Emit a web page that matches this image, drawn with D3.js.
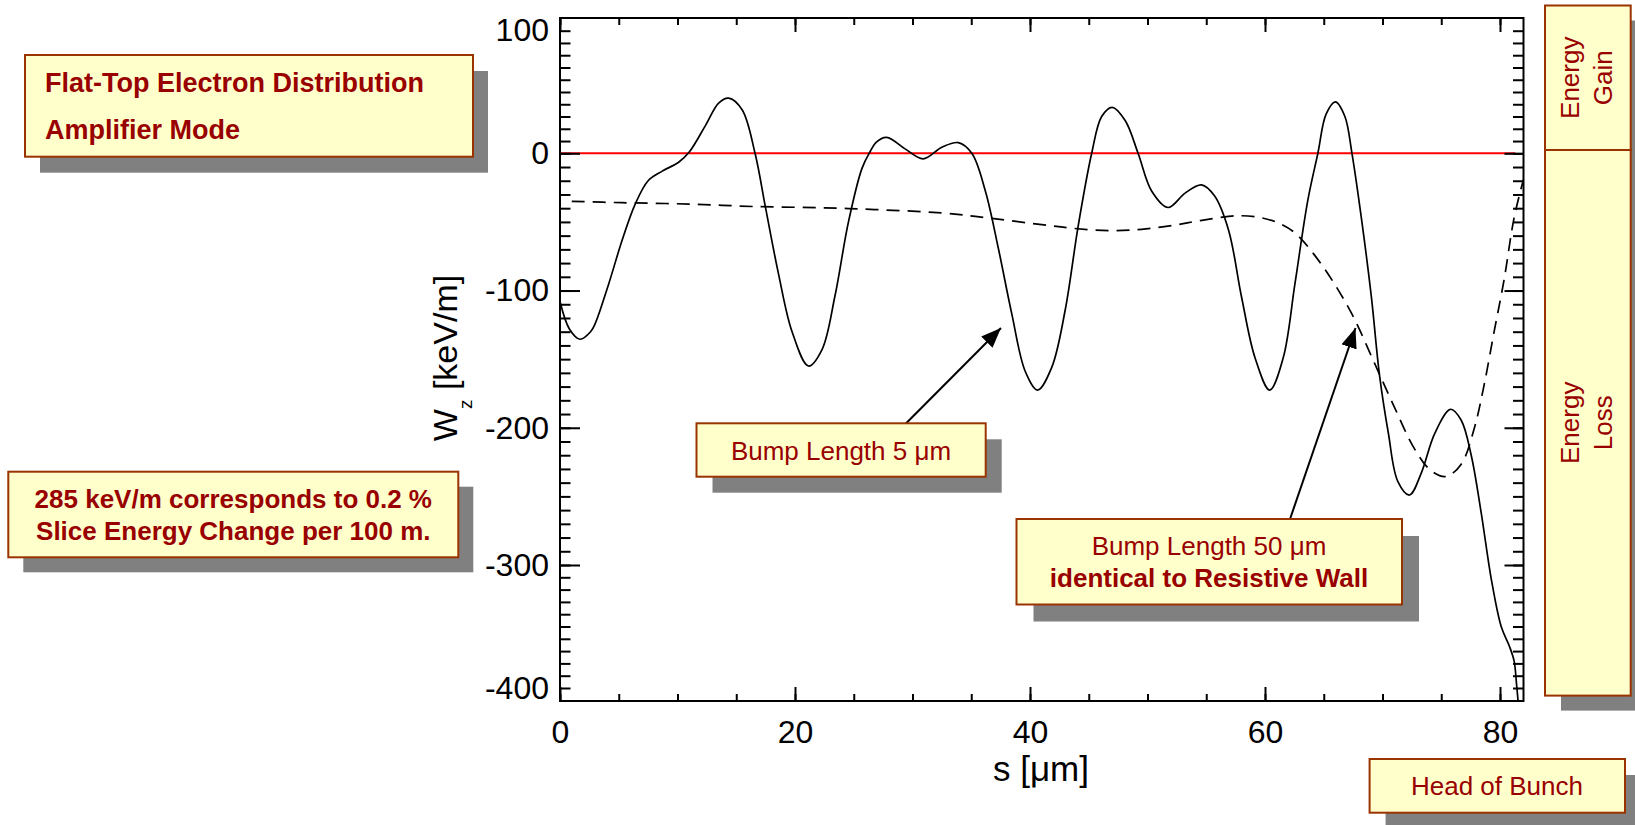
<!DOCTYPE html>
<html>
<head>
<meta charset="utf-8">
<script src="https://cdn.jsdelivr.net/npm/d3@7"></script>
<style>
  html, body { margin: 0; padding: 0; background: #ffffff; }
  svg { display: block; }
</style>
</head>
<body>
<svg id="chart" width="1635" height="825"></svg>
<script>
// Longitudinal wake W_z along the bunch coordinate s, for two bump lengths.

// Bump length 5 µm (solid)
const sSolid = [0.0, 0.8, 1.7, 2.6, 3.0, 4.15, 5.3, 6.4, 7.5, 8.7, 10.1, 11.0, 12.4, 13.5, 14.35,
  15.5, 16.6, 17.5, 18.6, 19.75, 21.15, 22.3, 23.4, 24.55, 25.7, 26.4, 26.9, 27.8, 29.4, 30.9,
  32.5, 33.9, 35.05, 36.2, 37.3, 38.45, 39.6, 40.65, 41.85, 43.0, 44.1, 45.25, 46.1, 47.0, 48.1,
  49.2, 50.35, 51.75, 53.2, 54.6, 55.7, 56.9, 58.0, 59.15, 60.4, 61.55, 62.55, 63.65, 64.5, 65.2,
  66.0, 66.8, 67.4, 68.2, 69.05, 69.75, 70.5, 71.3, 72.3, 73.3, 74.45, 75.8, 76.7, 77.55, 78.4,
  79.25, 80.1, 80.8, 81.2, 81.4, 81.55];
const wSolid = [-108, -128, -135.5, -130, -124, -95, -63, -37, -20, -13, -6.5, 1, 23, 41, 45,
  35.5, 0, -40, -88, -130, -155, -143, -104, -50, -11, 1.5, 9, 13, 3.4, -4,
  5, 8.7, 0, -27.5, -69, -117, -159, -172.5, -156, -114, -53, 0, 30, 37.5, 26.7,
  0, -27.5, -39.5, -29, -23, -31, -56, -104.5, -149, -172.5, -149, -95, -34, 0, 32,
  42, 30, 0, -47, -104.5, -162, -204, -239, -249, -233, -204, -186.5, -194.5, -220, -262,
  -311, -350, -366, -378, -396, -412];

// Bump length 50 µm, identical to resistive wall (dashed)
const sDashed = [1.0, 5.3, 11.0, 16.6, 22.3, 26.8, 32.5, 36.75, 41.0, 43.8, 46.7, 49.5, 52.3,
  54.5, 56.9, 58.0, 59.7, 61.2, 62.55, 64.2, 65.9, 67.6, 69.3, 71.0, 72.7, 74.1, 75.4, 76.7,
  77.8, 78.65, 79.5, 80.35, 81.2, 82.0];
const wDashed = [-35, -36, -37, -38.8, -39.7, -41, -43.5, -47.4, -52, -54.8, -56.4, -55.4, -52.3,
  -49, -46, -45.5, -47, -51, -58, -74, -95, -120.5, -152.6, -184.7, -215, -231, -235.5, -226.5,
  -200.7, -168.7, -130, -92, -47, -19];

// Zero reference line
const sZero = [0, 81.3];
const wZero = [0, 0];

// Axis ticks
const xTickLabels = [0, 20, 40, 60, 80];
const xMinorTicks = d3.range(0, 81, 5);
const yTickLabels = [100, 0, -100, -200, -300, -400];
const yMajorTicks = [0, -100, -200, -300];
const yMinorTicks = d3.range(-400, 101, 10);

// Annotation arrow targets (s, W_z)
const arrow5Target = [37.53, -127.3];
const arrow50Target = [67.7, -127.3];

(function draw() {
  const FONT = "'Liberation Sans', Arial, Helvetica, sans-serif";
  const TEXT_RED = "#990000";
  const BOX_FILL = "#ffffcc";
  const BOX_EDGE = "#993300";
  const SHADOW = "#808080";

  const pLeft = 560, pRight = 1523.5, pTop = 18, pBottom = 701;

  const svg = d3.select("#chart");

  const x = d3.scaleLinear().domain([0, 82]).range([pLeft, pRight]);
  const y = d3.scaleLinear()
    .domain([-410.5, -400, -300, 0, 100, 110.4])
    .range([pBottom, 688, 565, 153.3, 30.7, pTop]);

  const defs = svg.append("defs");
  defs.append("clipPath").attr("id", "plotClip")
    .append("rect").attr("x", pLeft).attr("y", pTop)
    .attr("width", pRight - pLeft).attr("height", pBottom - pTop);
  defs.append("marker")
    .attr("id", "arrowHead")
    .attr("viewBox", "0 0 20 16")
    .attr("refX", 20).attr("refY", 8)
    .attr("markerWidth", 20).attr("markerHeight", 16)
    .attr("markerUnits", "userSpaceOnUse")
    .attr("orient", "auto")
    .append("path").attr("d", "M0,0 L20,8 L0,16 Z").attr("fill", "#000");

  const line = d3.line()
    .x(d => x(d[0]))
    .y(d => y(d[1]))
    .curve(d3.curveCatmullRom.alpha(0.5));

  const plot = svg.append("g").attr("clip-path", "url(#plotClip)");

  plot.append("path")
    .datum(d3.zip(sZero, wZero))
    .attr("d", d3.line().x(d => x(d[0])).y(d => y(d[1])))
    .attr("fill", "none").attr("stroke", "#ff0000").attr("stroke-width", 2);

  plot.append("path")
    .datum(d3.zip(sDashed, wDashed))
    .attr("d", line)
    .attr("fill", "none").attr("stroke", "#000").attr("stroke-width", 1.7)
    .attr("stroke-dasharray", "13,8");

  plot.append("path")
    .datum(d3.zip(sSolid, wSolid))
    .attr("d", line)
    .attr("fill", "none").attr("stroke", "#000").attr("stroke-width", 1.7);

  // axes
  function styleAxis(g) {
    g.select(".domain").remove();
    g.selectAll("line").attr("stroke", "#000").attr("stroke-width", 2);
    g.attr("font-family", FONT).attr("font-size", 32);
    g.selectAll("text").attr("fill", "#000");
  }
  const noLabel = () => "";
  const plain = d => String(d);

  svg.append("g").attr("transform", `translate(${pLeft},0)`)
    .call(d3.axisLeft(y).tickValues(yMinorTicks).tickSize(-10.5).tickFormat(noLabel)).call(styleAxis);
  svg.append("g").attr("transform", `translate(${pLeft},0)`)
    .call(d3.axisLeft(y).tickValues(yMajorTicks).tickSize(-20).tickFormat(noLabel)).call(styleAxis);
  svg.append("g").attr("transform", `translate(${pLeft},0)`)
    .call(d3.axisLeft(y).tickValues(yTickLabels).tickSize(0).tickPadding(11).tickFormat(plain)).call(styleAxis);

  svg.append("g").attr("transform", `translate(${pRight},0)`)
    .call(d3.axisRight(y).tickValues(yMinorTicks).tickSize(-10.5).tickFormat(noLabel)).call(styleAxis);
  svg.append("g").attr("transform", `translate(${pRight},0)`)
    .call(d3.axisRight(y).tickValues(yMajorTicks).tickSize(-19).tickFormat(noLabel)).call(styleAxis);

  svg.append("g").attr("transform", `translate(0,${pTop})`)
    .call(d3.axisTop(x).tickValues(xMinorTicks).tickSize(-7).tickFormat(noLabel)).call(styleAxis);
  svg.append("g").attr("transform", `translate(0,${pTop})`)
    .call(d3.axisTop(x).tickValues(xTickLabels).tickSize(-14).tickFormat(noLabel)).call(styleAxis);
  svg.append("g").attr("transform", `translate(0,${pBottom})`)
    .call(d3.axisBottom(x).tickValues(xMinorTicks).tickSize(-7).tickFormat(noLabel)).call(styleAxis);
  svg.append("g").attr("transform", `translate(0,${pBottom})`)
    .call(d3.axisBottom(x).tickValues(xTickLabels).tickSize(-14).tickFormat(noLabel)).call(styleAxis);
  svg.append("g").attr("transform", `translate(0,${pBottom})`)
    .call(d3.axisBottom(x).tickValues(xTickLabels).tickSize(0).tickPadding(19).tickFormat(plain)).call(styleAxis);

  // frame
  svg.append("rect")
    .attr("x", pLeft).attr("y", pTop).attr("width", pRight - pLeft).attr("height", pBottom - pTop)
    .attr("fill", "none").attr("stroke", "#000").attr("stroke-width", 2);

  // axis titles
  svg.append("text")
    .attr("x", 1041).attr("y", 781)
    .attr("text-anchor", "middle")
    .attr("font-family", FONT).attr("font-size", 35).attr("fill", "#000")
    .text("s [μm]");

  const yTitle = svg.append("text")
    .attr("transform", "translate(457,358) rotate(-90)")
    .attr("text-anchor", "middle")
    .attr("font-family", FONT).attr("font-size", 34).attr("fill", "#000");
  yTitle.append("tspan").text("W");
  yTitle.append("tspan").attr("font-size", 19).attr("dy", 15).text("z");
  yTitle.append("tspan").attr("dy", -15).text(" [keV/m]");

  // annotation boxes
  function noteBox(x0, y0, w, h, dx, dy) {
    svg.append("rect").attr("x", x0 + dx).attr("y", y0 + dy).attr("width", w).attr("height", h)
      .attr("fill", SHADOW);
    svg.append("rect").attr("x", x0).attr("y", y0).attr("width", w).attr("height", h)
      .attr("fill", BOX_FILL).attr("stroke", BOX_EDGE).attr("stroke-width", 2);
  }
  function noteText(tx, ty, str, opts = {}) {
    return svg.append("text")
      .attr("x", tx).attr("y", ty)
      .attr("text-anchor", opts.anchor || "middle")
      .attr("font-family", FONT)
      .attr("font-size", opts.size || 26)
      .attr("font-weight", opts.bold ? "bold" : "normal")
      .attr("fill", TEXT_RED)
      .text(str);
  }

  // arrows (drawn before their boxes so the boxes cover the tails)
  svg.append("line")
    .attr("x1", 905.4).attr("y1", 424)
    .attr("x2", x(arrow5Target[0])).attr("y2", y(arrow5Target[1]))
    .attr("stroke", "#000").attr("stroke-width", 2).attr("marker-end", "url(#arrowHead)");
  svg.append("line")
    .attr("x1", 1289.7).attr("y1", 520)
    .attr("x2", x(arrow50Target[0])).attr("y2", y(arrow50Target[1]))
    .attr("stroke", "#000").attr("stroke-width", 2).attr("marker-end", "url(#arrowHead)");

  noteBox(25, 55, 448, 101.7, 15, 16);
  noteText(45, 92, "Flat-Top Electron Distribution", { anchor: "start", bold: true, size: 27 });
  noteText(45, 139, "Amplifier Mode", { anchor: "start", bold: true, size: 27 });

  noteBox(8.3, 471.7, 450, 85.6, 15, 15);
  noteText(233.3, 508, "285 keV/m corresponds to 0.2 %", { bold: true });
  noteText(233.3, 540, "Slice Energy Change per 100 m.", { bold: true });

  noteBox(696.5, 423.3, 289.2, 53.4, 16, 16);
  noteText(841, 460, "Bump Length 5 μm");

  noteBox(1016.5, 519, 385.5, 85.5, 17, 17);
  noteText(1209, 555, "Bump Length 50 μm");
  noteText(1209, 587, "identical to Resistive Wall", { bold: true });

  noteBox(1369.6, 759, 255.4, 53.7, 16, 16);
  noteText(1497, 795, "Head of Bunch");

  // energy gain / loss side panel
  const panelX = 1545, panelW = 85.7, panelTop = 5.5, panelBottom = 695.6, panelSplit = 150;
  svg.append("rect").attr("x", panelX + 16).attr("y", panelTop + 15)
    .attr("width", panelW).attr("height", panelBottom - panelTop).attr("fill", SHADOW);
  svg.append("rect").attr("x", panelX).attr("y", panelTop)
    .attr("width", panelW).attr("height", panelSplit - panelTop)
    .attr("fill", BOX_FILL).attr("stroke", BOX_EDGE).attr("stroke-width", 2);
  svg.append("rect").attr("x", panelX).attr("y", panelSplit)
    .attr("width", panelW).attr("height", panelBottom - panelSplit)
    .attr("fill", BOX_FILL).attr("stroke", BOX_EDGE).attr("stroke-width", 2);

  function sideLabel(cy, lines) {
    const t = svg.append("text")
      .attr("transform", `translate(${panelX + panelW / 2},${cy}) rotate(-90)`)
      .attr("text-anchor", "middle")
      .attr("font-family", FONT).attr("font-size", 26).attr("fill", TEXT_RED);
    t.append("tspan").attr("x", 0).attr("y", -9).text(lines[0]);
    t.append("tspan").attr("x", 0).attr("y", 24).text(lines[1]);
  }
  sideLabel((panelTop + panelSplit) / 2, ["Energy", "Gain"]);
  sideLabel((panelSplit + panelBottom) / 2, ["Energy", "Loss"]);
})();
</script>
</body>
</html>
